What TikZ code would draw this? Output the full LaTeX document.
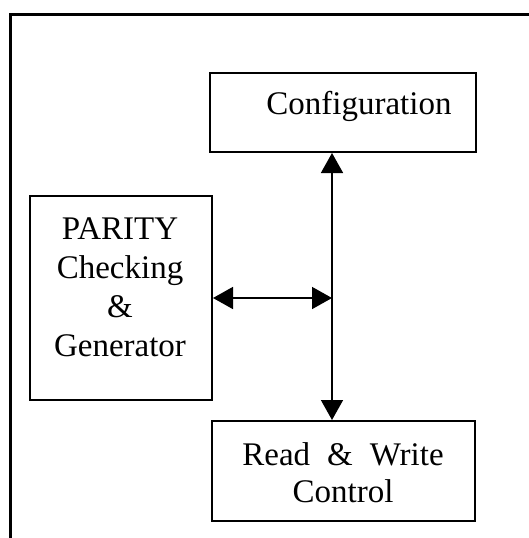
\documentclass[tikz,border=0pt]{standalone}
\usepackage{fontspec}
\setmainfont{Liberation Serif}
\usetikzlibrary{arrows.meta}

\tikzset{
  block/.style={draw=black, line width=2pt, inner sep=0pt},
  label/.style={anchor=base, inner sep=0pt, font=\fontsize{33}{39}\selectfont},
  link/.style={line width=1.6pt, {Triangle[length=20pt,width=22pt]}-{Triangle[length=20pt,width=22pt]}},
  frame/.style={line width=3pt, line cap=rect}
}

\begin{document}
\begin{tikzpicture}[x=1pt, y=-1pt]
  \useasboundingbox (0,0) rectangle (528,538);
  \fill[white] (0,0) rectangle (528,538);

  % outer frame: top edge and left edge only
  \draw[frame] (528,14) -- (10,14) -- (10,540);

  % blocks
  \node[block, minimum width=266pt, minimum height=79pt] (config) at (343,112.5) {};
  \node[block, minimum width=182pt, minimum height=204pt] (parity) at (121,298) {};
  \node[block, minimum width=263pt, minimum height=100pt] (rw) at (343.5,471) {};

  % block captions
  \node[label] (configtxt) at (359,114) {Configuration};

  \node[label] (par1) at (120,239) {PARITY};
  \node[label] (par2) at (120,278) {Checking};
  \node[label] (par3) at (120,317) {\&};
  \node[label] (par4) at (120,356) {Generator};

  \node[label] (rw1) at (343,465) {Read\hspace{17pt}\&\hspace{17pt}Write};
  \node[label] (rw2) at (343,502) {Control};

  % shared bus and its connections
  \coordinate (bus) at (332,298);
  \draw[link] (config.south -| bus) -- (rw.north -| bus);
  \draw[link] (parity.east) -- (bus);
\end{tikzpicture}
\end{document}
